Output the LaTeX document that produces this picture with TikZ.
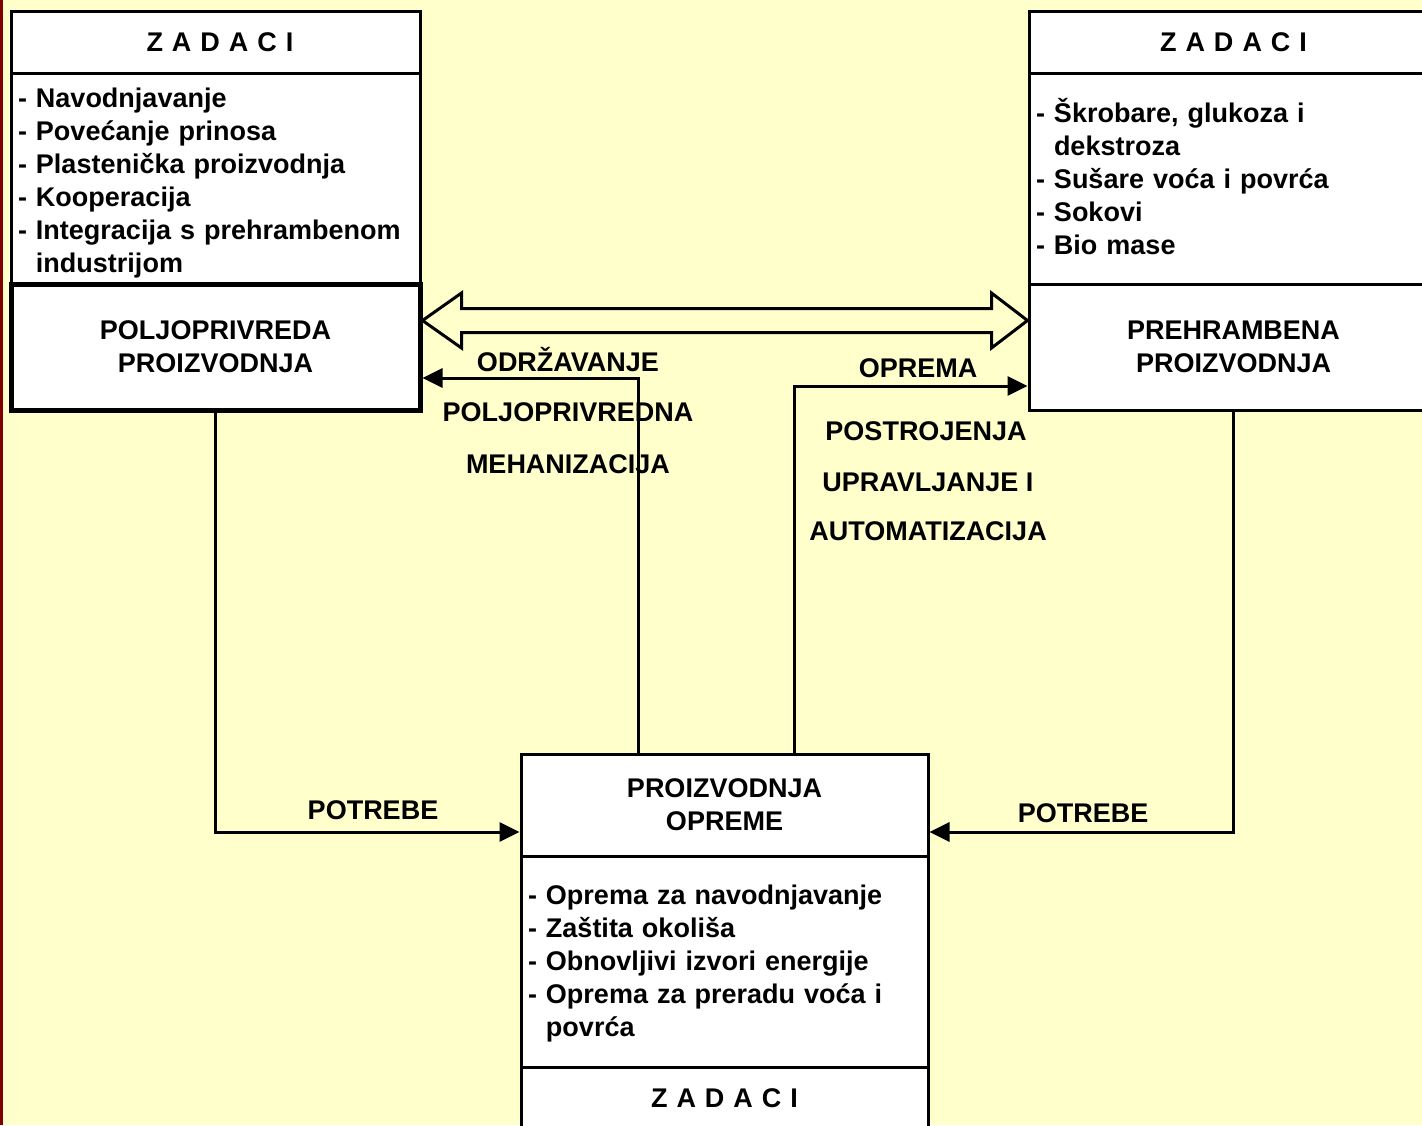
\documentclass[tikz,border=0pt]{standalone}
\usepackage{fontspec}
\setmainfont{Liberation Sans}
\usetikzlibrary{calc,arrows.meta}
\definecolor{bgyellow}{HTML}{FFFFCC}
\definecolor{stripred}{HTML}{800000}
\newcommand\zadacitxt{Z\hspace{9pt}A\hspace{9pt}D\hspace{9pt}A\hspace{9pt}C\hspace{9pt}I}
\begin{document}
\begin{tikzpicture}[x=1pt,y=-1pt,
  every node/.style={font=\fontsize{27}{33}\selectfont\bfseries},
  box/.style={draw=black, line width=3pt, fill=white, inner sep=0pt, minimum width=409pt},
  listbox/.style={box, align=left, text width=395pt, minimum height=211pt},
  titlebox/.style={box, align=center},
  arr/.style={draw=black, line width=3pt, -{Triangle[length=20pt,width=19pt]}},
  lbl/.style={inner sep=0pt, anchor=base}]
\useasboundingbox (0,0) rectangle (1422,1125);
\fill[bgyellow] (0,0) rectangle (1422,1125);
\fill[stripred] (0,0) rectangle (3,1125);
% left column
\node[titlebox, minimum height=62pt] (zadL) at (215.5,42) {\hspace*{9pt}\zadacitxt};
\node[listbox, text height=27.7pt, text depth=170.7pt] (listL) at (215.5,178.5) {- Navodnjavanje\\- Povećanje prinosa\\- Plastenička proizvodnja\\- Kooperacija\\- Integracija s prehrambenom\\\hphantom{- }industrijom};
\node[titlebox, minimum height=126pt, line width=5pt] (polj) at (215.5,347) {POLJOPRIVREDA\\PROIZVODNJA};
% right column
\node[titlebox, minimum height=62pt] (zadR) at (1233.5,42) {\zadacitxt};
\node[listbox, text height=26pt, text depth=137.7pt] (listR) at (1233.5,178.5) {- Škrobare, glukoza i\\\hphantom{- }dekstroza\\- Sušare voća i povrća\\- Sokovi\\- Bio mase};
\node[titlebox, minimum height=126pt] (preh) at (1233.5,347) {PREHRAMBENA\\PROIZVODNJA};
% bottom column
\node[titlebox, minimum width=407pt, minimum height=102pt] (proiz) at (724.5,805) {PROIZVODNJA\\OPREME};
\node[listbox, minimum width=407pt, text width=393pt, text height=24pt, text depth=137.8pt] (listB) at (724.5,961.5) {- Oprema za navodnjavanje\\- Zaštita okoliša\\- Obnovljivi izvori energije\\- Oprema za preradu voća i\\\hphantom{- }povrća};
\node[titlebox, minimum width=407pt, minimum height=62pt] (zadB) at (724.5,1098) {\zadacitxt};
% double hollow arrow
\coordinate (dL) at ([yshift=26.5pt]polj.east);
\coordinate (dR) at ([yshift=26.5pt]preh.west);
\draw[line width=3pt, line join=miter]
  (dL) -- ($(dL)+(39,-27.5)$) -- ($(dL)+(39,-12)$) -- ($(dR)+(-36,-12)$)
  -- ($(dR)+(-36,-27.5)$) -- (dR) -- ($(dR)+(-36,27.5)$) -- ($(dR)+(-36,12)$)
  -- ($(dL)+(39,12)$) -- ($(dL)+(39,27.5)$) -- cycle;
% connectors
\draw[arr] ([xshift=-86.5pt]proiz.north) |- ([yshift=-31pt]polj.east);
\draw[arr] ([xshift=69.5pt]proiz.north) |- ([yshift=-39pt]preh.west);
\draw[arr] ([xshift=-0.5pt]polj.south) |- ([yshift=-27pt]proiz.west);
\draw[arr] ([xshift=-0.5pt]preh.south) |- ([yshift=-27pt]proiz.east);
% labels
\node[lbl] (l1) at (568,371.5) {ODRŽAVANJE};
\node[lbl] (l2) at (568,421.5) {POLJOPRIVREDNA};
\node[lbl] (l3) at (568,473) {MEHANIZACIJA};
\node[lbl] (l4) at (918,377) {OPREMA};
\node[lbl] (l5) at (926,440) {POSTROJENJA};
\node[lbl] (l6) at (928,491.5) {UPRAVLJANJE I};
\node[lbl] (l7) at (928,540) {AUTOMATIZACIJA};
\node[lbl] (l8) at (373,819) {POTREBE};
\node[lbl] (l9) at (1083,822) {POTREBE};
\end{tikzpicture}
\end{document}
